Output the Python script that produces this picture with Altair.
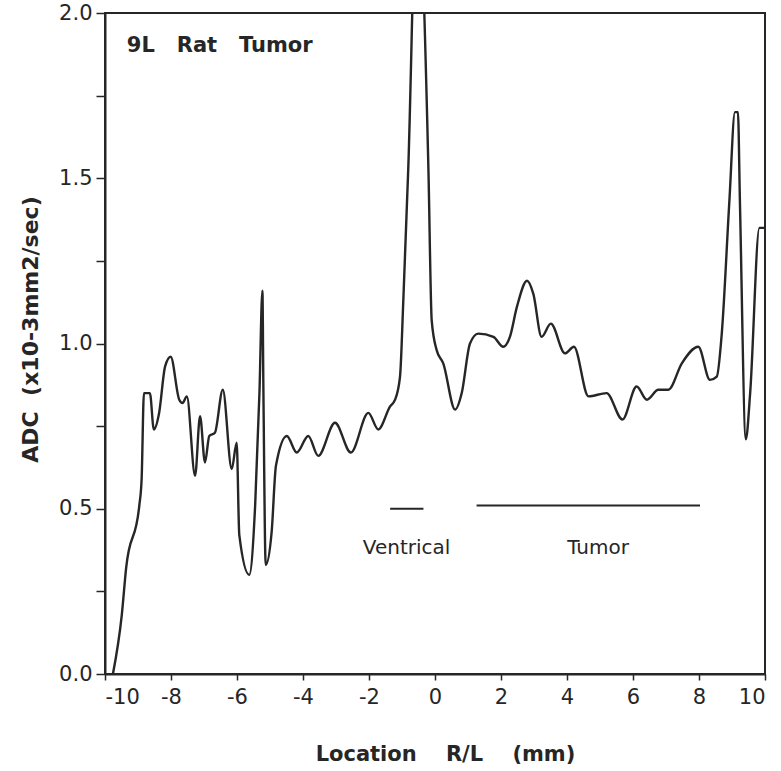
import altair as alt
import pandas as pd

# ADC profile across the rat brain, location in mm (right/left)
location = [
    -9.76, -9.49, -9.36, -8.96, -8.89, -8.82, -8.64, -8.52, -8.36, -8.18,
    -8.01, -7.75, -7.65, -7.52, -7.27, -7.12, -6.97, -6.84, -6.67, -6.43,
    -6.16, -6.01, -5.93, -5.63, -5.45, -5.32, -5.23, -5.20, -5.13, -4.95,
    -4.82, -4.49, -4.19, -3.84, -3.54, -3.03, -2.55, -2.02, -1.72, -1.36,
    -1.21, -1.06, -0.96, -0.81, -0.54, -0.20, -0.10, 0.05, 0.25, 0.61,
    0.81, 1.06, 1.31, 1.77, 2.07, 2.27, 2.48, 2.79, 2.98, 3.23,
    3.51, 3.94, 4.21, 4.65, 5.20, 5.68, 6.11, 6.42, 6.77, 7.07,
    7.48, 7.98, 8.33, 8.54, 8.69, 8.92, 9.09, 9.18, 9.24, 9.42,
    9.55, 9.83, 10.0,
]
adc = [
    0.00, 0.18, 0.32, 0.51, 0.59, 0.85, 0.85, 0.74, 0.79, 0.93,
    0.96, 0.83, 0.82, 0.84, 0.60, 0.78, 0.64, 0.72, 0.73, 0.86,
    0.62, 0.70, 0.42, 0.30, 0.51, 0.85, 1.16, 0.86, 0.33, 0.43,
    0.63, 0.72, 0.67, 0.72, 0.66, 0.76, 0.67, 0.79, 0.74, 0.81,
    0.83, 0.90, 1.13, 1.53, 2.40, 1.53, 1.07, 0.98, 0.94, 0.80,
    0.85, 1.00, 1.03, 1.02, 0.99, 1.02, 1.11, 1.19, 1.15, 1.02,
    1.06, 0.97, 0.99, 0.84, 0.85, 0.77, 0.87, 0.83, 0.86, 0.86,
    0.94, 0.99, 0.89, 0.90, 1.03, 1.43, 1.70, 1.70, 1.43, 0.71,
    0.85, 1.35, 1.35,
]

# Region markers
region_name = ["Ventrical", "Tumor"]
region_start = [-1.36, 1.26]
region_end = [-0.35, 8.03]
region_level = [0.50, 0.51]
region_label_x = [-0.86, 4.94]
region_label_y = [0.38, 0.38]

NB = "\u00a0"
panel_title = f"9L{NB*3}Rat{NB*3}Tumor"
x_title = f"Location{NB*4}R/L{NB*4}(mm)"
y_title = f"ADC{NB*2}(x10-3mm2/sec)"

profile = pd.DataFrame({"loc": location, "adc": adc})
regions = pd.DataFrame({
    "name": region_name, "start": region_start, "end": region_end,
    "level": region_level, "lx": region_label_x, "ly": region_label_y,
})
heading = pd.DataFrame({"text": [panel_title], "x": [-9.34], "y": [1.90]})

FONT = "DejaVu Sans"
INK = "#262626"

xscale = alt.Scale(domain=[-10, 10], nice=False, zero=False)
yscale = alt.Scale(domain=[0, 2], nice=False, zero=True)

x_axis = alt.Axis(
    values=list(range(-10, 11)),
    labelExpr="datum.value % 2 == 0 ? '' + datum.value : ''",
    title=x_title,
    grid=False,
    tickSize=6,
    labelPadding=6,
    labelFont=FONT,
    labelFontSize=21,
    labelColor=INK,
    titleFont=FONT,
    titleFontSize=21,
    titleFontWeight="bold",
    titleColor=INK,
    titleX=340,
    titleY=86,
    titleAlign="center",
    titleBaseline="alphabetic",
)
y_axis = alt.Axis(
    values=[i * 0.25 for i in range(9)],
    labelExpr="datum.value % 0.5 == 0 ? format(datum.value, '.1f') : ''",
    title=y_title,
    grid=False,
    tickSize=9,
    labelPadding=4,
    labelFont=FONT,
    labelFontSize=21,
    labelColor=INK,
    titleFont=FONT,
    titleFontSize=22,
    titleFontWeight="bold",
    titleColor=INK,
    titleAngle=270,
    titleX=-75,
    titleY=316,
    titleAlign="center",
    titleBaseline="middle",
)

curve = alt.Chart(profile).mark_line(
    color=INK, strokeWidth=2.4, clip=True, interpolate="monotone"
).encode(
    x=alt.X("loc:Q", scale=xscale, axis=x_axis),
    y=alt.Y("adc:Q", scale=yscale, axis=y_axis),
    order="loc:Q",
)

bars = alt.Chart(regions).mark_rule(color=INK, strokeWidth=2).encode(
    x=alt.X("start:Q", scale=xscale),
    x2="end:Q",
    y=alt.Y("level:Q", scale=yscale),
)

labels = alt.Chart(regions).mark_text(
    font=FONT, fontSize=20, color=INK, align="center", baseline="middle"
).encode(
    x=alt.X("lx:Q", scale=xscale),
    y=alt.Y("ly:Q", scale=yscale),
    text="name:N",
)

title_mark = alt.Chart(heading).mark_text(
    font=FONT, fontSize=21, fontWeight="bold", color=INK,
    align="left", baseline="middle"
).encode(
    x=alt.X("x:Q", scale=xscale),
    y=alt.Y("y:Q", scale=yscale),
    text="text:N",
)

chart = alt.layer(curve, bars, labels, title_mark).properties(
    width=660,
    height=661,
    autosize=alt.AutoSizeParams(type="none"),
    padding={"left": 105, "top": 13, "right": 16, "bottom": 97},
    background="white",
).configure_view(
    stroke=INK, strokeWidth=2
).configure_axis(
    domainColor=INK, domainWidth=2, tickColor=INK, tickWidth=1.5
)

chart.save("out.html", embed_options={"renderer": "svg", "actions": False})
